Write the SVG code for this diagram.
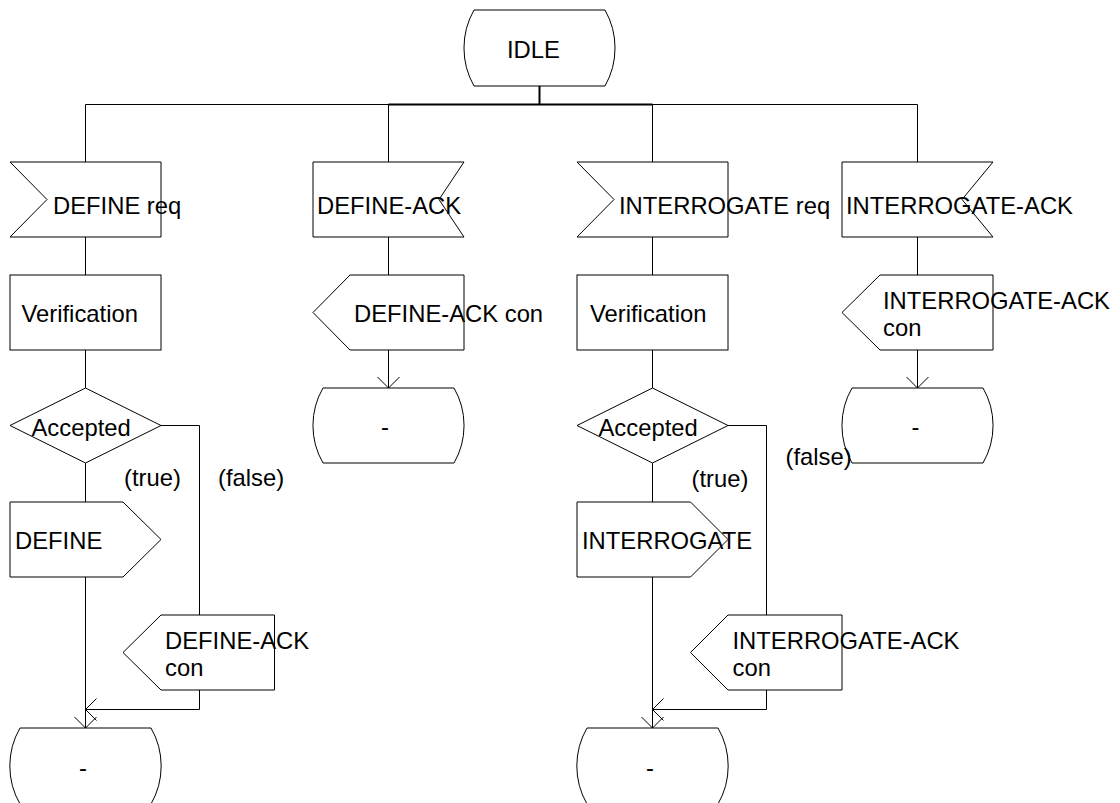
<svg xmlns="http://www.w3.org/2000/svg" width="1120" height="803" viewBox="0 0 1120 803">
<style>
.s{fill:#fff;stroke:#000;stroke-width:1}
.c{fill:none;stroke:#000;stroke-width:1}
.t{font-family:"Liberation Sans",Arial,sans-serif;font-size:23.8px;fill:#000}
</style>
<defs>
<marker id="arr" markerWidth="24" markerHeight="24" viewBox="-12 -12 24 24" refX="0" refY="0" orient="auto" markerUnits="userSpaceOnUse"><path d="M-11,-11 L0,0 L-11,11" fill="none" stroke="#000" stroke-width="1"/></marker>
</defs>
<rect width="1120" height="803" fill="#fff"/>
<g id="connectors">
<path class="c" d="M85.5,104.5 H917.5"/>
<path class="c" style="stroke-width:2" d="M388.5,104.5 H652.5"/>
<path class="c" style="stroke-width:2" d="M539.5,86 V104.5"/>
<path class="c" d="M85.5,104.5 V162 M388.5,104.5 V162 M652.5,104.5 V162 M917.5,104.5 V162"/>
<path class="c" d="M85.5,237 V275 M388.5,237 V275 M652.5,237 V275 M917.5,237 V275"/>
<path class="c" d="M85.5,350 V388 M652.5,350 V388"/>
<path class="c" marker-end="url(#arr)" d="M388.5,350 V388"/>
<path class="c" marker-end="url(#arr)" d="M917.5,350 V388"/>
<path class="c" d="M85.5,463 V502 M652.5,463 V502"/>
<path class="c" d="M161,425.5 H199.5 V615 M728,425.5 H766.5 V615"/>
<path class="c" marker-end="url(#arr)" d="M85.5,577 V728"/>
<path class="c" marker-end="url(#arr)" d="M652.5,577 V728"/>
<path class="c" marker-end="url(#arr)" d="M199.5,690 V709.5 H85.5"/>
<path class="c" marker-end="url(#arr)" d="M766.5,690 V709.5 H652.5"/>
</g>
<g id="idle">
<path class="s" d="M474,10 H605 A77,77 0 0 1 605,86 H474 A77,77 0 0 1 474,10 Z"/>
<text class="t" x="507" y="57.5">IDLE</text>
</g>
<g id="define-req">
<path class="s" d="M10,162 H161 V237 H10 L47,199.5 Z"/>
<text class="t" x="53" y="213.5">DEFINE req</text>
</g>
<g id="define-ack">
<path class="s" d="M313,162 H464 L439,199.5 L464,237 H313 Z"/>
<text class="t" x="317" y="213.5">DEFINE-ACK</text>
</g>
<g id="interrogate-req">
<path class="s" d="M577,162 H728 V237 H577 L614,199.5 Z"/>
<text class="t" x="619" y="213.5">INTERROGATE req</text>
</g>
<g id="interrogate-ack">
<path class="s" d="M842,162 H993 L962,199.5 L993,237 H842 Z"/>
<text class="t" x="846" y="213.5">INTERROGATE-ACK</text>
</g>
<g id="verification-1">
<rect class="s" x="10" y="275" width="151" height="75"/>
<text class="t" x="21.5" y="322">Verification</text>
</g>
<g id="define-ack-con-1">
<path class="s" d="M350,275 H464 V350 H350 L313,312.5 Z"/>
<text class="t" x="354" y="322">DEFINE-ACK con</text>
</g>
<g id="verification-2">
<rect class="s" x="577" y="275" width="151" height="75"/>
<text class="t" x="590" y="322">Verification</text>
</g>
<g id="interrogate-ack-con-1">
<path class="s" d="M880,275 H993 V350 H880 L842,312.5 Z"/>
<text class="t" x="883" y="308.5">INTERROGATE-ACK<tspan x="883" y="335.5">con</tspan></text>
</g>
<g id="decision-1">
<path class="s" d="M10,425.5 L85.5,388 L161,425.5 L85.5,463 Z"/>
<text class="t" x="31.5" y="436">Accepted</text>
</g>
<g id="state-dash-1">
<path class="s" d="M323,388 H454 A75,75 0 0 1 454,463 H323 A75,75 0 0 1 323,388 Z"/>
<text class="t" x="381" y="435">-</text>
</g>
<g id="decision-2">
<path class="s" d="M577,425.5 L652.5,388 L728,425.5 L652.5,463 Z"/>
<text class="t" x="598.5" y="436">Accepted</text>
</g>
<g id="state-dash-2">
<path class="s" d="M852,388 H983 A75,75 0 0 1 983,463 H852 A75,75 0 0 1 852,388 Z"/>
<text class="t" x="911.5" y="435">-</text>
</g>
<g id="labels">
<text class="t" x="124" y="486">(true)</text>
<text class="t" x="218" y="486">(false)</text>
<text class="t" x="691.5" y="486.5">(true)</text>
<text class="t" x="785.5" y="465">(false)</text>
</g>
<g id="define-out">
<path class="s" d="M10,502 H123 L161,539.5 L123,577 H10 Z"/>
<text class="t" x="15" y="548.5">DEFINE</text>
</g>
<g id="interrogate-out">
<path class="s" d="M577,502 H690.5 L728,539.5 L690.5,577 H577 Z"/>
<text class="t" x="582" y="548.5">INTERROGATE</text>
</g>
<g id="define-ack-con-2">
<path class="s" d="M161,615 H274.5 V690 H161 L123,652.5 Z"/>
<text class="t" x="165" y="648.5">DEFINE-ACK<tspan x="165" y="675.5">con</tspan></text>
</g>
<g id="interrogate-ack-con-2">
<path class="s" d="M728,615 H842 V690 H728 L690.5,652.5 Z"/>
<text class="t" x="732.5" y="648.5">INTERROGATE-ACK<tspan x="732.5" y="675.5">con</tspan></text>
</g>
<g id="state-dash-3">
<path class="s" d="M20,728 H151 A76,76 0 0 1 151,804 H20 A76,76 0 0 1 20,728 Z"/>
<text class="t" x="79" y="776">-</text>
</g>
<g id="state-dash-4">
<path class="s" d="M587,728 H718 A76,76 0 0 1 718,804 H587 A76,76 0 0 1 587,728 Z"/>
<text class="t" x="646" y="776">-</text>
</g>
</svg>
